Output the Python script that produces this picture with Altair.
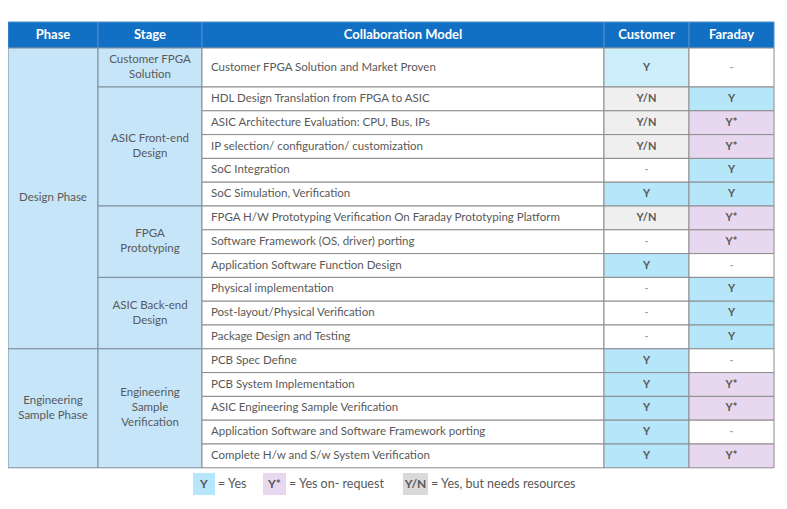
import altair as alt
import pandas as pd

# ---------------- data ----------------
headers = ["Phase", "Stage", "Collaboration Model", "Customer", "Faraday"]
phases = ["Design Phase", "Engineering\nSample Phase"]
phase_spans = [12, 5]
stages = ["Customer FPGA\nSolution", "ASIC Front-end\nDesign", "FPGA\nPrototyping",
          "ASIC Back-end\nDesign", "Engineering\nSample\nVerification"]
stage_spans = [1, 5, 3, 3, 5]
models = [
    "Customer FPGA Solution and Market Proven",
    "HDL Design Translation from FPGA to ASIC",
    "ASIC Architecture Evaluation: CPU, Bus, IPs",
    "IP selection/ configuration/ customization",
    "SoC Integration",
    "SoC Simulation,  Verification",
    "FPGA H/W Prototyping Verification On Faraday Prototyping Platform",
    "Software Framework (OS, driver) porting",
    "Application Software Function Design",
    "Physical implementation",
    "Post-layout/Physical  Verification",
    "Package Design and Testing",
    "PCB Spec Define",
    "PCB System  Implementation",
    "ASIC Engineering Sample Verification",
    "Application Software and Software Framework porting",
    "Complete H/w and S/w System Verification",
]
customer = ["Y", "Y/N", "Y/N", "Y/N", "-", "Y", "Y/N", "-", "Y", "-", "-", "-",
            "Y", "Y", "Y", "Y", "Y"]
faraday = ["-", "Y", "Y*", "Y*", "Y", "Y", "Y*", "Y*", "-", "Y", "Y", "Y",
           "-", "Y*", "Y*", "-", "Y*"]
legend_keys = ["Y", "Y*", "Y/N"]
legend_labels = ["= Yes", "=  Yes on- request", "= Yes, but needs resources"]

# ---------------- layout (page pixels) ----------------
col_edges = [8, 98, 202, 604, 689, 774]
header_top, header_bot = 22, 48
first_row_h = 39
row_h = 23.8
row_edges = [header_bot, header_bot + first_row_h]
for _ in range(len(models) - 1):
    row_edges.append(row_edges[-1] + row_h)
LH = 15  # line height for wrapped labels

HEADER_BLUE = "#1270C4"
SIDE_BLUE = "#C6E5F9"
TEXT = "#595959"
value_fill = {"Y": "#B6E6FA", "Y*": "#E7D8F0", "Y/N": "#EFEFEF", "-": "#FFFFFF"}
legend_fill = {"Y": "#B6E6FA", "Y*": "#E7D8F0", "Y/N": "#D9D9D9"}

rects, hdr_txt, side_txt, model_txt, val_txt = [], [], [], [], []

# header
for i, h in enumerate(headers):
    rects.append(dict(x1=col_edges[i], x2=col_edges[i + 1], y1=header_top, y2=header_bot,
                      fill=HEADER_BLUE, stroke="#4F8FCF"))
    hdr_txt.append(dict(x=(col_edges[i] + col_edges[i + 1]) / 2, y=(header_top + header_bot) / 2, t=h))

# phases / stages (merged)
def merged(labels, spans, c):
    r = 0
    for lab, sp in zip(labels, spans):
        y1, y2 = row_edges[r], row_edges[r + sp]
        rects.append(dict(x1=col_edges[c], x2=col_edges[c + 1], y1=y1, y2=y2,
                          fill=SIDE_BLUE, stroke="#7F8C99"))
        n = lab.count("\n")
        side_txt.append(dict(x=(col_edges[c] + col_edges[c + 1]) / 2,
                             y=(y1 + y2) / 2 - n * LH / 2, t=lab))
        r += sp

merged(phases, phase_spans, 0)
merged(stages, stage_spans, 1)

for r, (m, cu, fa) in enumerate(zip(models, customer, faraday)):
    y1, y2 = row_edges[r], row_edges[r + 1]
    rects.append(dict(x1=col_edges[2], x2=col_edges[3], y1=y1, y2=y2, fill="#FFFFFF", stroke="#8C8C8C"))
    model_txt.append(dict(x=col_edges[2] + 9, y=(y1 + y2) / 2, t=m))
    for c, v in ((3, cu), (4, fa)):
        fill = value_fill[v]
        if r == 0 and v == "Y":
            fill = "#CDEFFC"
        rects.append(dict(x1=col_edges[c], x2=col_edges[c + 1], y1=y1, y2=y2, fill=fill, stroke="#8C8C8C"))
        val_txt.append(dict(x=(col_edges[c] + col_edges[c + 1]) / 2, y=(y1 + y2) / 2, t=v,
                            col="#A6A6A6" if v == "-" else TEXT))

# legend
leg_box_x = [193, 263, 403]
leg_box_w = [22, 23, 25]
leg_y1, leg_y2 = 473, 495
leg_rects, leg_key_txt, leg_lab_txt = [], [], []
for k, lab, bx, bw in zip(legend_keys, legend_labels, leg_box_x, leg_box_w):
    leg_rects.append(dict(x1=bx, x2=bx + bw, y1=leg_y1, y2=leg_y2, fill=legend_fill[k], stroke=legend_fill[k]))
    leg_key_txt.append(dict(x=bx + bw / 2, y=(leg_y1 + leg_y2) / 2, t=k))
    leg_lab_txt.append(dict(x=bx + bw + 3, y=(leg_y1 + leg_y2) / 2, t=lab))

W, H = 771, 490
X = alt.Scale(domain=[8, 8 + W], nice=False, zero=False)
Y = alt.Scale(domain=[8, 8 + H], nice=False, zero=False, reverse=True)

def rect_layer(rows, sw=1):
    return alt.Chart(pd.DataFrame(rows)).mark_rect(strokeWidth=sw).encode(
        x=alt.X("x1:Q", scale=X, axis=None), x2="x2:Q",
        y=alt.Y("y1:Q", scale=Y, axis=None), y2="y2:Q",
        fill=alt.Fill("fill:N", scale=None),
        stroke=alt.Stroke("stroke:N", scale=None),
    )

def text_layer(rows, **kw):
    df = pd.DataFrame(rows)
    enc = dict(x=alt.X("x:Q", scale=X, axis=None), y=alt.Y("y:Q", scale=Y, axis=None), text="t:N")
    if "col" in df.columns:
        enc["color"] = alt.Color("col:N", scale=None)
    return alt.Chart(df).mark_text(font="Lato", lineBreak="\n", **kw).encode(**enc)

layers = [
    rect_layer(rects),
    text_layer(hdr_txt, fontSize=13, fontWeight="bold", color="#FFFFFF", align="center", baseline="middle"),
    text_layer(side_txt, fontSize=11.5, color=TEXT, align="center", baseline="middle", lineHeight=LH),
    text_layer(model_txt, fontSize=11.5, color=TEXT, align="left", baseline="middle"),
    text_layer(val_txt, fontSize=11, fontWeight="bold", align="center", baseline="middle"),
    rect_layer(leg_rects, sw=0),
    text_layer(leg_key_txt, fontSize=12, fontWeight="bold", color=TEXT, align="center", baseline="middle"),
    text_layer(leg_lab_txt, fontSize=12.5, color=TEXT, align="left", baseline="middle"),
]

chart = alt.layer(*layers).properties(
    width=W, height=H, padding=0, autosize=alt.AutoSizeParams(type="none")
).configure_view(stroke=None)

chart.save("out.html", embed_options={"renderer": "svg", "actions": False})
